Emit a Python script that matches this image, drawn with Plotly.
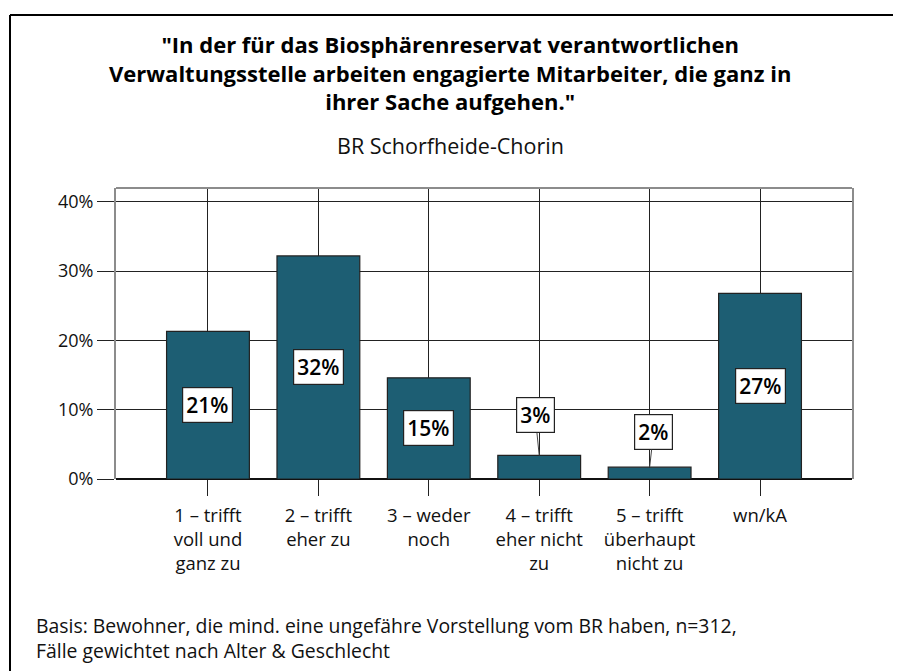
import plotly.graph_objects as go

categories = ["1 – trifft<br>voll und<br>ganz zu", "2 – trifft<br>eher zu", "3 – weder<br>noch",
              "4 – trifft<br>eher nicht<br>zu", "5 – trifft<br>überhaupt<br>nicht zu", "wn/kA"]
values = [21.3, 32.2, 14.6, 3.4, 1.7, 26.8]
value_labels = ["21%", "32%", "15%", "3%", "2%", "27%"]
y_tickvals = [0, 10, 20, 30, 40]
y_ticktext = ["0%", "10%", "20%", "30%", "40%"]
title = ('"In der für das Biosphärenreservat verantwortlichen<br>'
         'Verwaltungsstelle arbeiten engagierte Mitarbeiter, die ganz in<br>'
         'ihrer Sache aufgehen."')
subtitle = "BR Schorfheide-Chorin"
footnote = ("Basis: Bewohner, die mind. eine ungefähre Vorstellung vom BR haben, n=312,<br>"
            "Fälle gewichtet nach Alter & Geschlecht")

# page offset (browser body margin)
OFF = 8
SW, SH = 901, 671
W, H = SW - OFF, SH - OFF
L, R, T, B = 116, 852, 188, 479   # plot area in screen pixels
FONT = "Open Sans"

def px(x):
    return (x - L) / (R - L)

def py(y):
    return (B - y) / (B - T)

x_idx = list(range(len(categories)))

fig = go.Figure()
fig.add_trace(go.Bar(
    x=x_idx, y=values, width=0.75,
    marker=dict(color="#1d5e73", line=dict(color="#222222", width=1.2)),
    hoverinfo="skip",
))

annotations = []
for i, (v, lab) in enumerate(zip(values, value_labels)):
    common = dict(text=lab, font=dict(family=FONT, size=21, color="black", weight=600),
                  bgcolor="white", bordercolor="#222222", borderwidth=1.2, borderpad=3,
                  xref="x", yref="y")
    if v >= 8:
        annotations.append(dict(x=i, y=v / 2, showarrow=False, **common))
    else:
        annotations.append(dict(x=i, y=v, showarrow=True, arrowhead=0, arrowwidth=1,
                                arrowcolor="#444444", ax=-4 if i == 3 else 4,
                                ay=-40 if i == 3 else -35, **common))

annotations.append(dict(
    text=title, xref="paper", yref="paper", x=px(450), y=py(72),
    xanchor="center", yanchor="middle", showarrow=False,
    font=dict(family=FONT, size=22, color="black", weight="bold")))
annotations.append(dict(
    text=subtitle, xref="paper", yref="paper", x=px(450), y=py(145),
    xanchor="center", yanchor="middle", showarrow=False,
    font=dict(family=FONT, size=21.5, color="#111111")))
annotations.append(dict(
    text=footnote, xref="paper", yref="paper", x=px(34), y=py(638), xanchor="left",
    yanchor="middle", align="left", showarrow=False,
    font=dict(family=FONT, size=19.4, color="#111111")))

shapes = [
    dict(type="line", xref="paper", yref="paper", x0=px(10), x1=px(910), y0=py(15), y1=py(15),
         line=dict(color="black", width=2)),
    dict(type="line", xref="paper", yref="paper", x0=px(10), x1=px(10), y0=py(15), y1=py(680),
         line=dict(color="black", width=2)),
    dict(type="line", xref="paper", yref="paper", x0=0, x1=1, y0=1, y1=1,
         line=dict(color="#8c8c8c", width=2)),
]

fig.update_layout(
    width=W, height=H,
    margin=dict(l=L - OFF, r=SW - R, t=T - OFF, b=SH - B, pad=0),
    paper_bgcolor="white", plot_bgcolor="white",
    showlegend=False,
    annotations=annotations, shapes=shapes,
    xaxis=dict(range=[-0.833, 5.833], tickmode="array", tickvals=x_idx, ticktext=categories,
               showgrid=True, gridcolor="#222222", gridwidth=1,
               ticks="outside", ticklen=16, tickcolor="#222222", tickwidth=1,
               showline=False, zeroline=False, ticklabelstandoff=4,
               tickfont=dict(family=FONT, size=18.5, color="#111111")),
    yaxis=dict(range=[0, 42], tickmode="array", tickvals=y_tickvals, ticktext=y_ticktext,
               showgrid=True, gridcolor="#222222", gridwidth=1,
               ticks="outside", ticklen=17, tickcolor="#222222", tickwidth=1,
               showline=True, linecolor="#8c8c8c", linewidth=2, mirror=True,
               zeroline=True, zerolinecolor="#111111", zerolinewidth=2,
               tickfont=dict(family=FONT, size=18, color="#111111")),
)

fig.write_html("out.html")
